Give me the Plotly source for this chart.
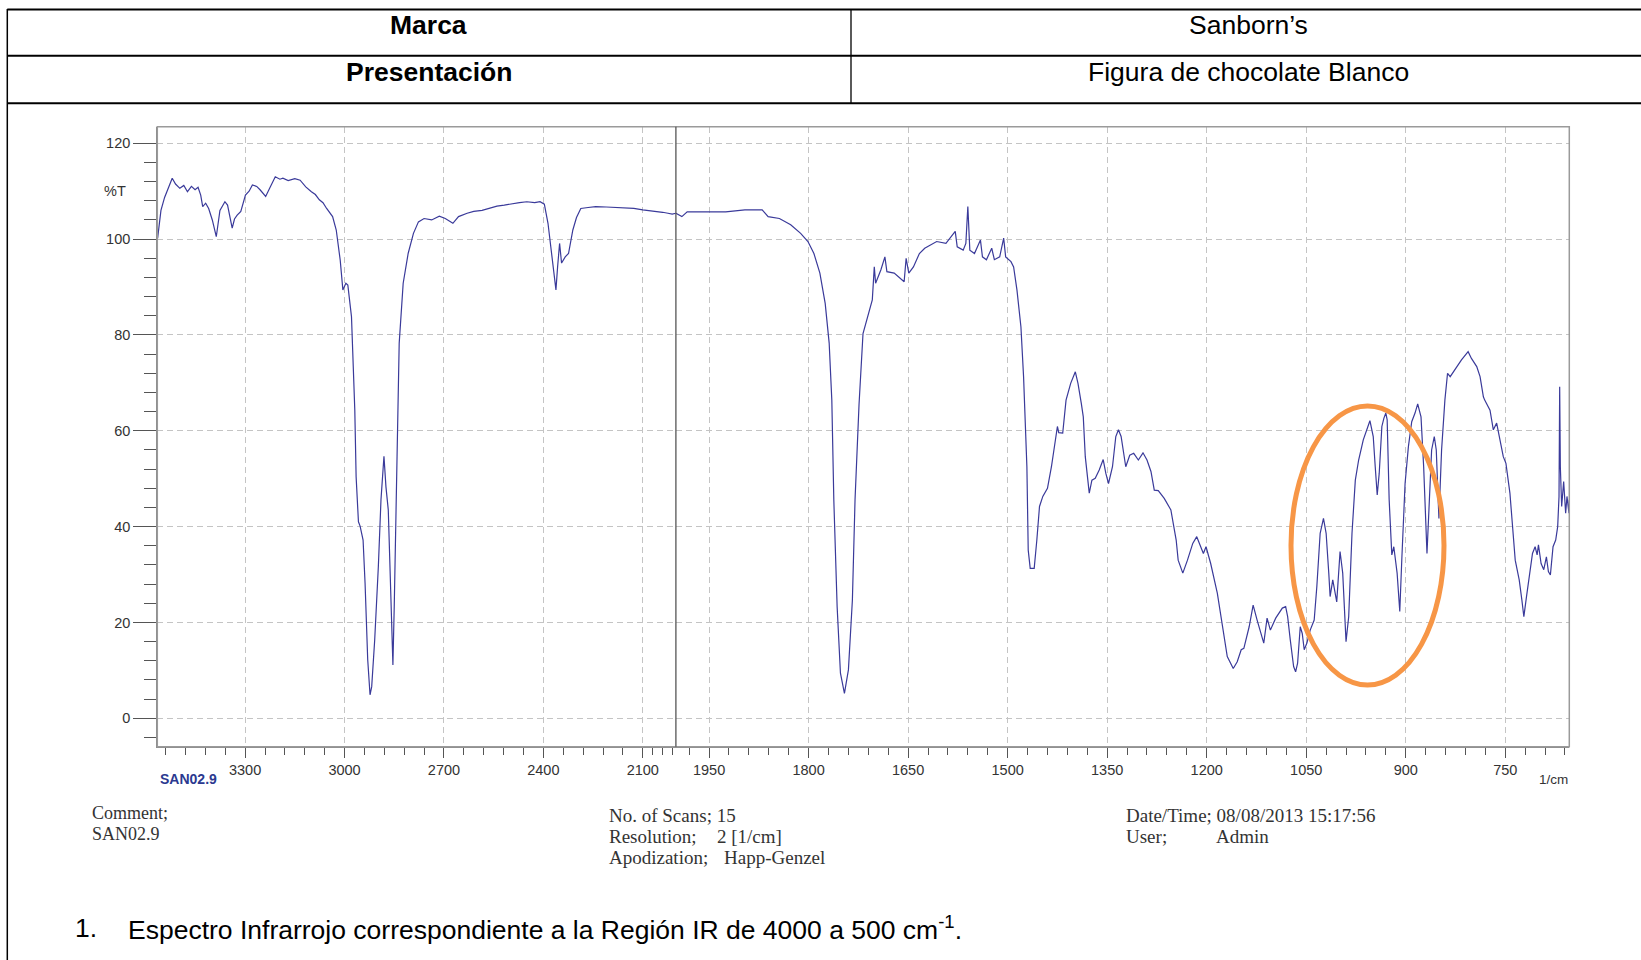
import plotly.graph_objects as go

W, H = 1641, 960

# ---------------- data (wavenumber 1/cm, %T) ----------------
wn_high = [3564, 3554, 3543, 3530, 3520, 3510, 3497, 3485, 3474, 3462, 3451, 3442, 3434, 3428,
           3419, 3410, 3399, 3387, 3376, 3361, 3353, 3339, 3332, 3324, 3313, 3299, 3288, 3278,
           3265, 3255, 3238, 3226, 3209, 3195, 3186, 3170, 3163, 3150, 3134, 3117, 3100, 3088,
           3076, 3065, 3054, 3036, 3025, 3013, 3005, 2996, 2990, 2979, 2969, 2965, 2958, 2953,
           2944, 2938, 2930, 2923, 2918, 2909, 2898, 2890, 2881, 2875, 2868, 2861, 2854, 2850,
           2845, 2841, 2835, 2823, 2808, 2792, 2777, 2760, 2737, 2714, 2696, 2673, 2656, 2630,
           2610, 2585, 2564, 2540, 2518, 2495, 2472, 2450, 2426, 2410, 2397, 2386, 2374, 2362,
           2357, 2351, 2345, 2334, 2324, 2311, 2300, 2287, 2265, 2242, 2210, 2184, 2150, 2127,
           2100, 2069, 2040, 2024, 2011, 2000]
t_high = [100.2, 106, 108.7, 111, 112.7, 111.5, 110.6, 111.2, 109.9, 111, 110.3, 110.8, 109.2, 106.8,
          107.5, 106.4, 104, 100.5, 106, 107.8, 107.1, 102.3, 104.2, 105, 105.8, 109.2, 110, 111.3,
          111, 110.3, 108.9, 110.6, 113, 112.5, 112.7, 112.2, 112.3, 112.6, 112.3, 110.9, 109.9, 109.3,
          108.2, 107.6, 106.4, 104.7, 101.9, 95.6, 89.4, 90.8, 90.4, 83.8, 64.3, 50.4, 41, 40.1,
          37.2, 28.2, 12.2, 4.9, 6.6, 16.3, 31.6, 45.6, 54.7, 48.3, 43.5, 24.7, 11.1, 23.3,
          42.1, 62.3, 78.3, 90.8, 97, 101.2, 103.6, 104.3, 104, 104.8, 104.3, 103.3, 104.7, 105.4,
          105.8, 106, 106.4, 106.9, 107.1, 107.4, 107.6, 107.8, 107.6, 107.8, 107.3, 103.3, 96.3, 89.4,
          94.2, 99.1, 95, 96.3, 97, 101.9, 104.5, 106.4, 106.6, 106.8, 106.7, 106.6, 106.5, 106.4,
          106.1, 105.9, 105.6, 105.4, 105.2, 105.4]

wn_low = [2000, 1991, 1983, 1954, 1925, 1896, 1870, 1861, 1844, 1827, 1812, 1801, 1792, 1783,
          1775, 1769, 1765, 1762, 1757, 1752, 1746, 1740, 1734, 1730, 1724, 1718, 1711, 1704,
          1701, 1699, 1691, 1685, 1682, 1671, 1656, 1653, 1649, 1642, 1633, 1625, 1607, 1593,
          1579, 1576, 1567, 1563, 1560, 1557, 1550, 1541, 1538, 1532, 1524, 1520, 1512, 1506,
          1503, 1495, 1491, 1486, 1480, 1476, 1471, 1469, 1466, 1460, 1456, 1452, 1447, 1440,
          1434, 1425, 1423, 1417, 1412, 1405, 1398, 1394, 1389, 1386, 1383, 1377, 1373, 1368,
          1362, 1356, 1352, 1348, 1342, 1337, 1333, 1329, 1322, 1316, 1310, 1303, 1296, 1290,
          1284, 1279, 1273, 1264, 1254, 1246, 1243, 1236, 1229, 1221, 1215, 1209, 1205, 1201,
          1194, 1184, 1176, 1169, 1160, 1154, 1148, 1144, 1136, 1130, 1124, 1114, 1109, 1104,
          1096, 1086, 1081, 1078, 1074, 1069, 1066, 1063, 1059, 1056, 1053, 1049, 1044, 1038,
          1034, 1029, 1024, 1020, 1016, 1014, 1010, 1004, 999, 995, 990, 986, 981, 976,
          971, 964, 954, 949, 946, 943, 940, 936, 933, 930, 928, 925, 921, 918,
          913, 909, 906, 901, 896, 891, 886, 882, 877, 873, 868, 864, 861, 857,
          854, 850, 846, 841, 837, 833, 826, 816, 806, 801, 793, 788, 783, 781,
          773, 768, 763, 759, 753, 749, 743, 735, 729, 725, 722, 718, 714, 709,
          705, 702, 700, 696, 692, 688, 685, 682, 678, 674, 671, 669, 668, 667,
          665, 662, 659, 657, 654, 653.5]
t_low = [105.4, 104.7, 105.7, 105.7, 105.7, 106.1, 106.1, 104.7, 104.3, 103, 101.2, 99.5, 97, 92.9,
         86.6, 78.3, 66.4, 45.6, 23.3, 9.4, 5.2, 10.1, 24.7, 45.6, 65.5, 80.3, 83.8, 87.3,
         94.2, 90.8, 93.6, 96.3, 93.2, 92.9, 91.1, 96, 92.9, 94.2, 97, 98.1, 99.5, 99.1,
         101.6, 98.4, 97.7, 99.1, 106.8, 97.7, 97, 99.8, 96.3, 95.7, 98.1, 95.7, 96.3, 100.2,
         96.3, 95.3, 94.2, 89.4, 81.7, 71.3, 52.5, 35.1, 31.3, 31.3, 37.2, 44.2, 46.3, 48,
         52.5, 60.9, 59.6, 59.5, 66.4, 69.9, 72.3, 69.9, 65.7, 62.9, 54.6, 47, 49.7, 50.1,
         51.8, 54, 51.1, 49, 52.5, 58.8, 60.2, 58.8, 52.5, 54.9, 55.3, 53.9, 55.4, 53.9,
         51.5, 47.6, 47.5, 45.9, 43.5, 37.2, 33, 30.3, 33, 36.5, 37.9, 35.8, 34.4, 35.8,
         32.3, 26.1, 19.1, 12.9, 10.4, 11.8, 14.3, 14.6, 19.1, 23.6, 20.5, 15.7, 20.9, 18.4,
         20.9, 23, 23.3, 21.2, 16.3, 10.8, 9.7, 11.5, 19.1, 17.7, 14.3, 15.7, 18.4, 20.5,
         27.5, 38.6, 41.7, 38.6, 30.3, 25.4, 28.9, 24.3, 34.8, 30.3, 16, 21.2, 38.6, 49.7,
         53.9, 58.1, 62.1, 58.8, 52.5, 46.6, 51.1, 60.9, 62.6, 63.7, 62.3, 45.6, 34.1, 35.8,
         30.3, 22.3, 33, 49, 56.7, 61.9, 63.7, 65.6, 62.9, 52.5, 34.4, 49, 56, 58.8,
         56, 41.7, 56, 66.4, 72, 71.3, 72.7, 74.8, 76.5, 75.1, 73.4, 71.3, 67.1, 66.4,
         64.3, 60.2, 61.6, 58.8, 54.6, 53.2, 47, 33, 28.9, 24.7, 21.2, 25.4, 29.6, 34.4,
         35.8, 34.1, 36.2, 32.3, 31, 33.7, 30.6, 29.9, 35.8, 37.2, 40, 46.3, 69.2, 52.5,
         44.2, 49.4, 42.8, 46.3, 42.8, 45.6]

# axis ticks
x1_major = [3300, 3000, 2700, 2400, 2100]
x1_minor = [3540, 3480, 3420, 3360, 3240, 3180, 3120, 3060, 2940, 2880, 2820, 2760,
            2640, 2580, 2520, 2460, 2340, 2280, 2220, 2160, 2070, 2040, 2010]
x2_major = [1950, 1800, 1650, 1500, 1350, 1200, 1050, 900, 750]
x2_minor = [v for v in range(1980, 655, -30) if v not in x2_major]
y_major = [0, 20, 40, 60, 80, 100, 120]
y_minor = [v for v in range(-4, 121, 4) if v not in y_major]

# ---------------- geometry (pixels) ----------------
PL, PR, PT, PB = 157.3, 1569.3, 126.7, 746.7
PBRK = 675.9


def px(x):
    return x / W


def py(y):
    return 1 - y / H


LINE = "#3a3a9a"
TICKC = "#555555"
GRIDC = "#c4c4c4"
FONT_SANS = "Liberation Sans, Arial, sans-serif"
FONT_SERIF = "Liberation Serif, Times New Roman, serif"

fig = go.Figure()
fig.add_trace(go.Scatter(x=wn_high, y=t_high, xaxis="x", yaxis="y", mode="lines",
                         line=dict(color=LINE, width=1.2), showlegend=False, hoverinfo="skip"))
fig.add_trace(go.Scatter(x=wn_low, y=t_low, xaxis="x2", yaxis="y", mode="lines",
                         line=dict(color=LINE, width=1.2), showlegend=False, hoverinfo="skip"))

tickfont = dict(family=FONT_SANS, size=14.5, color="#333333")
common_x = dict(anchor="y", ticks="outside", ticklen=10, tickcolor=TICKC, tickwidth=1,
                showgrid=True, gridcolor=GRIDC, griddash="6px,4px", gridwidth=1,
                zeroline=False, showline=True, linecolor="#888888", linewidth=1.2,
                tickfont=tickfont, fixedrange=True)

fig.update_layout(
    width=W, height=H, margin=dict(l=0, r=0, t=0, b=0),
    paper_bgcolor="white", plot_bgcolor="white",
    xaxis=dict(domain=[px(PL), px(PBRK)], range=[3565, 2000], tickvals=x1_major,
               minor=dict(tickvals=x1_minor, ticks="outside", ticklen=7, tickcolor=TICKC,
                          showgrid=False), **common_x),
    xaxis2=dict(domain=[px(PBRK), px(PR)], range=[2000, 653.5], tickvals=x2_major,
                minor=dict(tickvals=x2_minor, ticks="outside", ticklen=7, tickcolor=TICKC,
                           showgrid=False), **common_x),
    yaxis=dict(domain=[py(PB), py(PT)], range=[-5.93, 123.46], anchor="x",
               tickvals=y_major, ticks="outside", ticklen=23, tickcolor=TICKC,
               minor=dict(tickvals=y_minor, ticks="outside", ticklen=12, tickcolor=TICKC,
                          showgrid=False),
               showgrid=True, gridcolor=GRIDC, griddash="6px,4px", zeroline=False,
               showline=True, linecolor="#888888", linewidth=1.2, tickfont=tickfont,
               fixedrange=True),
)

shapes = []
# plot frame
shapes.append(dict(type="rect", xref="paper", yref="paper", x0=px(PL), x1=px(PR),
                   y0=py(PB), y1=py(PT), line=dict(color="#9a9a9a", width=1.5)))
# axis break line at 2000
shapes.append(dict(type="line", xref="paper", yref="paper", x0=px(PBRK), x1=px(PBRK),
                   y0=py(PB), y1=py(PT), line=dict(color="#555555", width=1.3)))
# orange ellipse
shapes.append(dict(type="circle", xref="paper", yref="paper", x0=px(1291), x1=px(1444),
                   y0=py(685), y1=py(406), line=dict(color="#F79646", width=5)))
# table
shapes.append(dict(type="line", xref="paper", yref="paper", x0=px(7.3), x1=1.0,
                   y0=py(9.5), y1=py(9.5), line=dict(color="black", width=2)))
shapes.append(dict(type="line", xref="paper", yref="paper", x0=px(7.3), x1=1.0,
                   y0=py(55.7), y1=py(55.7), line=dict(color="black", width=2)))
shapes.append(dict(type="line", xref="paper", yref="paper", x0=px(7.3), x1=1.0,
                   y0=py(103.3), y1=py(103.3), line=dict(color="black", width=2)))
shapes.append(dict(type="line", xref="paper", yref="paper", x0=px(7.3), x1=px(7.3),
                   y0=py(9), y1=0, line=dict(color="black", width=1.5)))
shapes.append(dict(type="line", xref="paper", yref="paper", x0=px(851), x1=px(851),
                   y0=py(9), y1=py(103.3), line=dict(color="black", width=1.3)))
fig.update_layout(shapes=shapes)

ann = []


def txt(text, x, y, size, family=FONT_SANS, color="black", xanchor="left", bold=False):
    if bold:
        text = "<b>" + text + "</b>"
    ann.append(dict(text=text, x=px(x), y=py(y), xref="paper", yref="paper",
                    xanchor=xanchor, yanchor="middle", showarrow=False,
                    font=dict(family=family, size=size, color=color)))


TBL = 26.5
txt("Marca", 429, 25, TBL, xanchor="center", bold=True)
txt("Presentación", 429, 72, TBL, xanchor="center", bold=True)
txt("Sanborn’s", 1248, 25, TBL, xanchor="center")
txt("Figura de chocolate Blanco", 1248, 72, TBL, xanchor="center")

ann.append(dict(text="%T", x=px(128), y=110, xref="paper", yref="y", xanchor="right",
                yanchor="middle", showarrow=False,
                font=dict(family=FONT_SANS, size=14.5, color="#333333")))
txt("SAN02.9", 158, 779, 14, color="#2b3990", bold=True)
txt("1/cm", 1570, 779, 13.5, color="#333333", xanchor="right")

SER = 19
txt("Comment;", 90, 813, 18, family=FONT_SERIF, color="#333333")
txt("SAN02.9", 90, 834, 18, family=FONT_SERIF, color="#333333")
txt("No. of Scans; 15", 607, 815, SER, family=FONT_SERIF, color="#333333")
txt("Resolution;", 607, 836, SER, family=FONT_SERIF, color="#333333")
txt("2 [1/cm]", 715, 836, SER, family=FONT_SERIF, color="#333333")
txt("Apodization;", 607, 857, SER, family=FONT_SERIF, color="#333333")
txt("Happ-Genzel", 722, 857, SER, family=FONT_SERIF, color="#333333")
txt("Date/Time; 08/08/2013 15:17:56", 1124, 815, SER, family=FONT_SERIF, color="#333333")
txt("User;", 1124, 836, SER, family=FONT_SERIF, color="#333333")
txt("Admin", 1214, 836, SER, family=FONT_SERIF, color="#333333")

CAP = 26.5
txt("1.", 73, 928, CAP)
txt("Espectro Infrarrojo correspondiente a la Región IR de 4000 a 500 cm<sup>-1</sup>.", 126, 928, CAP)

fig.update_layout(annotations=ann)

fig.write_html("out.html", config={"displayModeBar": False})
